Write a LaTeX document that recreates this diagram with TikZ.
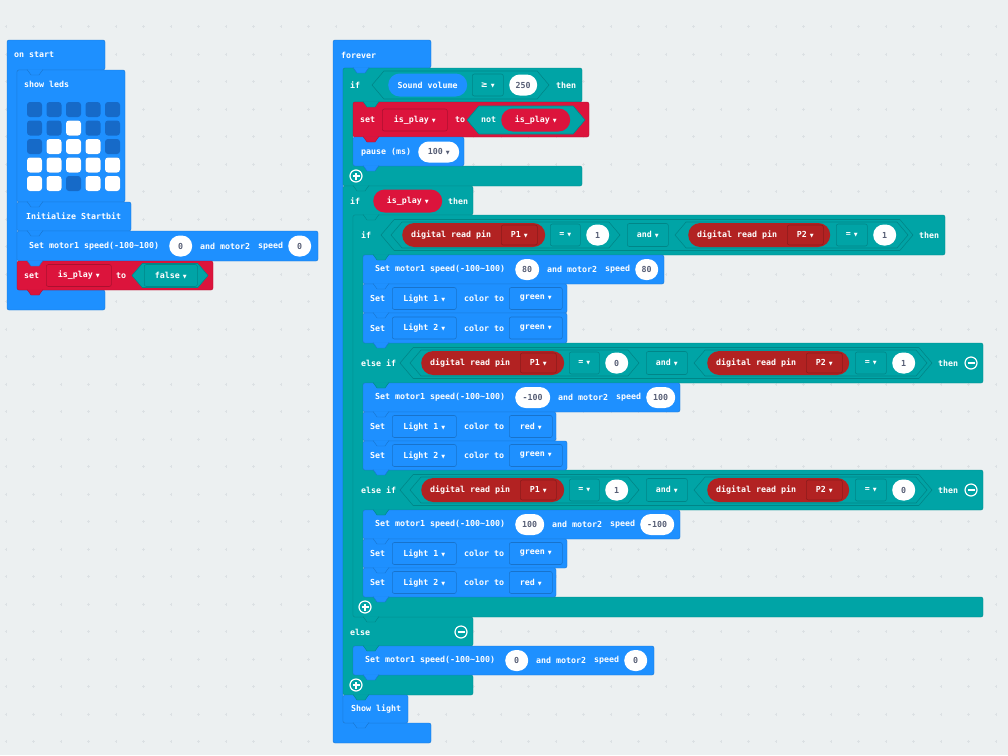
\documentclass[tikz,border=0pt]{standalone}
\usepackage{fontspec}
\newfontfamily\mcmono{DejaVu Sans Mono}
\newfontfamily\mcsym{DejaVu Sans}
\usetikzlibrary{shapes.misc,positioning}
\definecolor{mcblue}{RGB}{30,144,255}
\definecolor{mcled}{RGB}{22,106,200}
\definecolor{mcteal}{RGB}{0,164,166}
\definecolor{mcred}{RGB}{220,20,60}
\definecolor{mcpin}{RGB}{178,34,34}
\definecolor{mcbg}{RGB}{236,240,241}
\definecolor{mcdot}{RGB}{220,225,228}
\definecolor{mcgray}{RGB}{87,94,117}
\newcommand\mcfont{\mcmono\bfseries\fontsize{8.3}{9}\selectfont}
\newcommand\dd{\hspace{3pt}{\mcsym\fontsize{5}{5}\selectfont ▼}}
% hexagon: style, x1, x2, y centre, half height
\newcommand\hexbox[5]{\draw[#1] ({#2},{#4}) -- ({(#2)+(#5)*0.85},{(#4)-(#5)}) -- ({(#3)-(#5)*0.85},{(#4)-(#5)})
  -- ({#3},{#4}) -- ({(#3)-(#5)*0.85},{(#4)+(#5)}) -- ({(#2)+(#5)*0.85},{(#4)+(#5)}) -- cycle;}
% notch below a block: x left, y bottom, colour
\newcommand\notch[3]{\draw[fill=#3, draw=#3!80!black, line width=.4pt] ({#1+10},{#2-.6}) -- ({#1+14},{#2+5})
  -- ({#1+22},{#2+5}) -- ({#1+26},{#2-.6});}
\tikzset{
  blockblue/.style = {fill=mcblue, draw=mcblue!82!black, line width=.4pt, rounded corners=2pt},
  blockteal/.style = {fill=mcteal, draw=mcteal!85!black, line width=.4pt, rounded corners=2pt},
  blockred/.style  = {fill=mcred, draw=mcred!82!black, line width=.4pt, rounded corners=2pt},
  hexteal/.style   = {fill=mcteal, draw=mcteal!82!black, line width=.6pt},
  txt/.style       = {text=white, font=\mcfont, inner sep=0pt, anchor=west},
  num/.style       = {rounded rectangle, fill=white, text=mcgray, font=\mcfont, inner sep=0pt,
                      minimum height=21, anchor=west},
  rpill/.style     = {rounded rectangle, text=white, font=\mcfont, inner sep=0pt,
                      minimum height=23, anchor=west},
  ddfield/.style   = {rectangle, rounded corners=2pt, line width=.6pt, text=white, font=\mcfont,
                      inner sep=0pt, minimum height=22, anchor=west},
  ddblue/.style    = {ddfield, fill=mcblue, draw=mcblue!80!black},
  ddred/.style     = {ddfield, fill=mcred, draw=mcred!78!black},
  ddteal/.style    = {ddfield, fill=mcteal, draw=mcteal!82!black},
  ddpin/.style     = {ddfield, fill=mcpin, draw=mcpin!78!black, minimum height=20},
  ledoff/.style    = {fill=mcled, rounded corners=3pt, minimum size=15, inner sep=0pt},
  ledon/.style     = {ledoff, fill=white},
  pm/.style        = {circle, draw=white, line width=1.2pt, minimum size=12, inner sep=0pt},
  pmbar/.style     = {white, line width=1.3pt}
}
\begin{document}
\begin{tikzpicture}[x=1pt, y=-1pt]
\fill[mcbg] (0,0) rectangle (1008,755);
\useasboundingbox (0,0) rectangle (1008,755);
\foreach \i in {0,...,36}
  \foreach \j in {0,...,26}
    \draw[mcdot, line width=.5pt] ({5.8+27.5*\i-1.3},{26.7+27.5*\j}) -- ++(2.6,0)
      ({5.8+27.5*\i},{26.7+27.5*\j-1.3}) -- ++(0,2.6);

% blocks of on start
\draw[blockblue] (7,40) -- (105,40) -- (105,70) -- (17,70) -- (17,290) -- (105,290) -- (105,310) -- (7,310) -- cycle;
\draw[blockblue] (17,70) rectangle (125,202);
\draw[blockblue] (17,202) rectangle (131,231);
\draw[blockblue] (17,231) rectangle (318,261);
\draw[blockred] (17,261) rectangle (213,290);

% blocks of forever
\draw[blockblue] (333,40) -- (431,40) -- (431,68) -- (343,68) -- (343,723) -- (431,723) -- (431,743) -- (333,743) -- cycle;
\draw[blockteal] (343,68) -- (582,68) -- (582,102) -- (353,102) -- (353,166) -- (582,166) -- (582,186) -- (343,186) -- cycle;
\draw[blockred] (353,102) rectangle (589,137);
\draw[blockblue] (353,137) rectangle (464,166);
\draw[blockteal] (343,186) -- (473,186) -- (473,215) -- (353,215) -- (353,617) -- (473,617) -- (473,646)
  -- (353,646) -- (353,675) -- (473,675) -- (473,695) -- (343,695) -- cycle;
\draw[blockteal] (353,215) -- (945,215) -- (945,255) -- (363,255) -- (363,343) -- (983,343) -- (983,383)
  -- (363,383) -- (363,470) -- (983,470) -- (983,510) -- (363,510) -- (363,597) -- (983,597) -- (983,617)
  -- (353,617) -- cycle;
\foreach \xa/\ya/\xb/\yb in {363/255/664/284, 363/284/567/313, 363/313/567/343,
    363/383/680/412, 363/412/556/441, 363/441/567/470,
    363/510/680/539, 363/539/567/568, 363/568/556/597,
    353/646/654/675, 343/695/408/723}
  \draw[blockblue] (\xa,\ya) rectangle (\xb,\yb);

% notches
\foreach \x/\y/\c in {17/70/mcblue, 17/202/mcblue, 17/231/mcblue, 17/261/mcblue, 17/290/mcred,
    343/68/mcblue, 353/102/mcteal, 353/137/mcred, 353/166/mcblue, 343/186/mcteal, 353/215/mcteal,
    363/255/mcteal, 363/284/mcblue, 363/313/mcblue, 363/343/mcblue, 363/383/mcteal, 363/412/mcblue,
    363/441/mcblue, 363/470/mcblue, 363/510/mcteal, 363/539/mcblue, 363/568/mcblue, 363/597/mcblue,
    353/617/mcteal, 353/646/mcteal, 353/675/mcblue, 343/695/mcteal, 343/723/mcblue}
  {\notch{\x}{\y}{\c}}

% on start
\node[txt] (onstart) at (14,55) {on start};
\node[txt] (showleds) at (24,84) {show leds};
\foreach \i in {0,...,4}
  \foreach \j in {0,...,4}
    \node[ledoff] (led\i\j) at ({34.5+19.5*\i},{109.5+18.5*\j}) {};
\foreach \i/\j in {2/1, 1/2, 2/2, 3/2, 0/3, 1/3, 2/3, 3/3, 4/3, 0/4, 1/4, 3/4, 4/4}
  \node[ledon] (ledon\i\j) at ({34.5+19.5*\i},{109.5+18.5*\j}) {};
\node[txt] (init) at (26,216.5) {Initialize Startbit};
\node[txt] (os-set) at (24,275.5) {set};
\node[ddred, minimum width=65] (os-var) at (46,275.5) {is\_play\dd};
\node[txt] (os-to) at (116,275.5) {to};
\hexbox{hexteal}{132}{208}{275.5}{12}
\node[ddteal, minimum width=53] (os-false) at (144,275.5) {false\dd};

% motor rows
\foreach \k/\x/\y/\va/\wa/\vb/\wb in {m0/29/246/0/23/0/23, m1/375/269.5/80/24/80/23,
    m2/375/397.5/-100/35/100/29, m3/375/524.5/100/29/-100/34, m4/365/660.5/0/23/0/23} {
  \node[txt] (\k-set) at (\x,\y) {Set motor1 speed(-100\textasciitilde 100)};
  \node[num, minimum width=\wa] (\k-a) at (\x+140,\y) {\va};
  \node[txt] (\k-and) at (\x+148+\wa,\y) {and motor2};
  \node[txt] (\k-speed) at (\x+206+\wa,\y) {speed};
  \node[num, minimum width=\wb] (\k-b) at (\x+236+\wa,\y) {\vb};
}

% light rows
\foreach \k/\y/\n/\col/\w in {la/298.5/1/green/53, lb/328/2/green/53, lc/426.5/1/red/43,
    ld/455.5/2/green/53, le/553.5/1/green/53, lf/582.5/2/red/43} {
  \node[txt] (\k-set) at (370,\y) {Set};
  \node[ddblue, minimum width=64] (\k-light) at (392,\y) {Light \n\dd};
  \node[txt] (\k-to) at (464,\y) {color to};
  \node[ddblue, minimum width=\w] (\k-col) at (509,\y) {\col\dd};
}

% forever
\node[txt] (forever) at (341,55) {forever};
\node[txt] (if1) at (350,85) {if};
\hexbox{hexteal}{372}{549}{85}{14}
\node[rpill, fill=mcblue, minimum width=79] (sound) at (388,85) {Sound volume};
\node[ddteal, minimum width=31] (geq) at (472,85) {{\mcsym ≥}\dd};
\node[num, minimum width=28] (v250) at (509,85) {250};
\node[txt] (then1) at (556,85) {then};
\node[txt] (set1) at (360,120) {set};
\node[ddred, minimum width=65] (var1) at (382,120) {is\_play\dd};
\node[txt] (to1) at (455,120) {to};
\hexbox{hexteal}{467}{585}{120}{14}
\node[txt] (not1) at (481,120) {not};
\node[rpill, fill=mcred, minimum width=69] (var2) at (501,120) {is\_play\dd};
\node[txt] (pause) at (361,152) {pause (ms)};
\node[num, minimum width=41] (v100) at (418,152) {100\dd};
\node[pm] (plus1) at (356,176) {};
\node[txt] (if2) at (350,201) {if};
\node[rpill, fill=mcred, minimum width=69] (var3) at (373,201) {is\_play\dd};
\node[txt] (then2) at (448,201) {then};

% conditions on pins
\foreach \k/\y/\dx/\va/\vb/\lab in {ca/235/0/1/1/if, cb/363/19/0/1/else if, cc/490/19/1/0/else if} {
  \node[txt] (\k-if) at (361,\y) {\lab};
  \hexbox{hexteal}{381+\dx}{913+\dx}{\y}{15.5}
  \hexbox{hexteal}{391+\dx}{620+\dx}{\y}{13}
  \hexbox{hexteal}{675+\dx}{908+\dx}{\y}{13}
  \node[rpill, fill=mcpin, minimum height=24, minimum width=143] (\k-r1) at (402+\dx,\y) {};
  \node[txt] (\k-t1) at (411+\dx,\y) {digital read\hspace{5pt}pin};
  \node[ddpin, minimum width=36] (\k-p1) at (501+\dx,\y) {P1\dd};
  \node[ddteal, minimum width=30] (\k-eq1) at (550+\dx,\y) {=\dd};
  \node[num, minimum width=23] (\k-v1) at (586+\dx,\y) {\va};
  \node[ddteal, minimum width=41, minimum height=23] (\k-and) at (627+\dx,\y) {and\dd};
  \node[rpill, fill=mcpin, minimum height=24, minimum width=142] (\k-r2) at (688+\dx,\y) {};
  \node[txt] (\k-t2) at (697+\dx,\y) {digital read\hspace{5pt}pin};
  \node[ddpin, minimum width=36] (\k-p2) at (787+\dx,\y) {P2\dd};
  \node[ddteal, minimum width=31] (\k-eq2) at (836+\dx,\y) {=\dd};
  \node[num, minimum width=23] (\k-v2) at (873+\dx,\y) {\vb};
  \node[txt] (\k-then) at (919+\dx,\y) {then};
}
\node[pm] (minus1) at (971,363) {};
\node[pm] (minus2) at (971,490) {};
\node[pm] (plus2) at (365,607) {};
\node[txt] (else) at (350,632) {else};
\node[pm] (minus3) at (461,632) {};
\node[pm] (plus3) at (356,685) {};
\node[txt] (showlight) at (351,709) {Show light};

\foreach \p in {plus1, plus2, plus3, minus1, minus2, minus3}
  \draw[pmbar] ([xshift=-3.5pt]\p.center) -- ([xshift=3.5pt]\p.center);
\foreach \p in {plus1, plus2, plus3}
  \draw[pmbar] ([yshift=-3.5pt]\p.center) -- ([yshift=3.5pt]\p.center);
\end{tikzpicture}
\end{document}
